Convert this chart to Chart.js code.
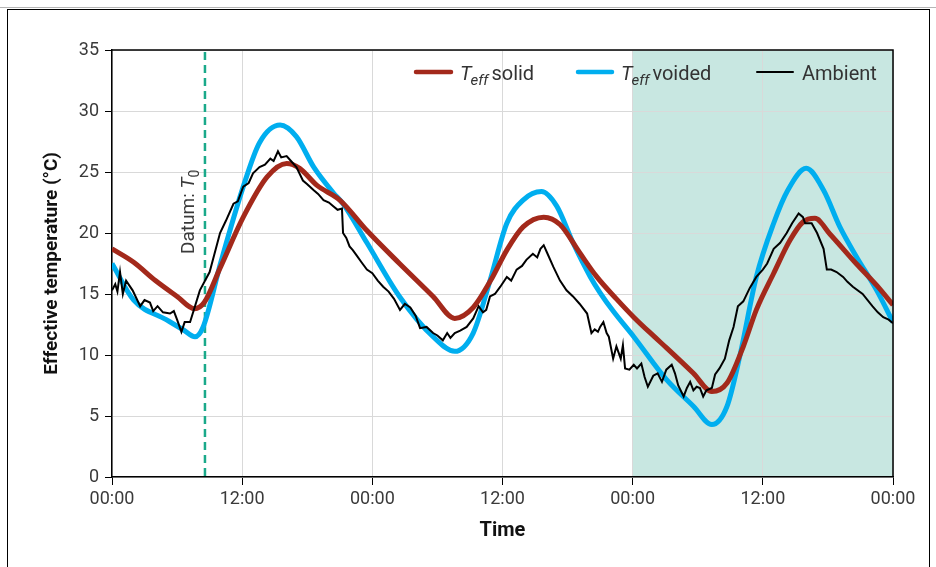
<!DOCTYPE html>
<html><head><meta charset="utf-8">
<script src="https://cdn.jsdelivr.net/npm/chart.js@4.4.1/dist/chart.umd.min.js"></script>
<style>
html,body{margin:0;padding:0;background:#fff;width:936px;height:567px;overflow:hidden;}
#topline{position:absolute;left:0;top:7px;width:936px;height:1px;background:#b5b5b5;}
#frame{position:absolute;left:7px;top:9px;width:921px;height:600px;border:1.5px solid #000;border-bottom:none;}
canvas{position:absolute;left:0;top:0;}
</style></head><body>
<div id="topline"></div><div id="frame"></div>
<canvas id="c" width="936" height="567"></canvas>
<script>
// ---- data (hours from start, °C) ----
const xTickValues = [0, 12, 24, 36, 48, 60, 72];
const xTickLabels = ['00:00', '12:00', '00:00', '12:00', '00:00', '12:00', '00:00'];
const datumHour = 8.57;
const shadeStart = 48, shadeEnd = 72;

const solidHours = [0, 2, 4, 6, 7.6, 8.5, 10, 12.1, 14.3, 16.1, 17.3, 18.9, 21, 23.5, 26.5, 29.6, 31.6, 33.3, 34.9, 36.4, 37.9, 39.8, 41.3, 43.1, 44.7, 46.5, 48.1, 50, 51.1, 53.6, 55.3, 56.7, 58.2, 59.4, 61, 62.5, 63.7, 64.8, 66.2, 68.6, 70.5, 72];
const solidTemps = [18.7, 17.6, 16.1, 14.8, 13.8, 14.3, 17.2, 21.3, 24.6, 25.7, 25.3, 23.9, 22.7, 20.2, 17.5, 14.8, 13.0, 13.9, 16.1, 18.6, 20.5, 21.3, 20.7, 18.4, 16.4, 14.6, 13.1, 11.5, 10.6, 8.5, 7.0, 7.7, 10.7, 13.7, 16.7, 19.4, 20.9, 21.2, 19.9, 17.5, 15.7, 14.1];

const voidedHours = [0, 2, 5, 6.6, 7.65, 8.4, 10, 12.1, 13.6, 15.5, 17, 18.6, 20.4, 21.3, 23.5, 26.5, 29.6, 31.6, 33.3, 34.85, 36.4, 37.9, 39.6, 41, 42.5, 44.1, 45, 46.2, 48.1, 51.1, 53.6, 55.3, 56.7, 57.9, 59.4, 61, 62.3, 64, 65.6, 67.1, 68.6, 70.5, 72];
const voidedTemps = [17.5, 14.5, 12.9, 12.05, 11.5, 12.3, 17.5, 23.8, 27.4, 28.85, 27.9, 25.4, 23.3, 22.4, 19.2, 14.8, 11.5, 10.3, 11.8, 16.1, 20.8, 22.7, 23.4, 22.2, 19.2, 16.4, 15.1, 13.6, 11.5, 8.0, 5.8, 4.3, 5.8, 10.0, 16.4, 20.8, 23.5, 25.3, 23.5, 20.5, 18.1, 15.3, 12.7];

const ambientHours = [0, 0.3, 0.5, 0.74, 1.0, 1.3, 1.9, 2.6, 3.0, 3.5, 3.8, 4.2, 4.7, 5.35, 5.7, 6.0, 6.4, 6.7, 7.2, 7.65, 8.1, 9.0, 9.96, 10.5, 11.2, 11.6, 12.1, 12.6, 13.0, 13.6, 14.1, 14.6, 14.9, 15.3, 15.6, 16.1, 16.5, 17.0, 17.6, 18.0, 18.6, 19.0, 19.5, 20.0, 20.4, 20.8, 21.2, 21.3, 21.6, 21.9, 22.2, 22.6, 23.0, 23.5, 24.0, 24.5, 25.0, 25.5, 26.0, 26.55, 27.0, 27.5, 28.0, 28.4, 29.0, 29.6, 30.0, 30.5, 30.9, 31.2, 31.6, 32.1, 32.7, 33.3, 33.8, 34.2, 34.5, 34.85, 35.3, 35.8, 36.4, 36.8, 37.3, 37.8, 38.2, 38.8, 39.2, 39.5, 39.8, 40.1, 40.7, 41.3, 41.9, 42.5, 43.1, 43.8, 44.2, 44.5, 44.8, 45.0, 45.3, 45.6, 45.8, 46.2, 46.5, 46.9, 47.1, 47.3, 47.7, 48.1, 48.4, 48.8, 49.1, 49.4, 49.9, 50.3, 50.7, 51.1, 51.6, 51.9, 52.2, 52.7, 53.0, 53.3, 53.6, 53.9, 54.2, 54.5, 54.8, 55.3, 55.6, 56.0, 56.5, 56.9, 57.3, 57.7, 58.2, 58.8, 59.4, 60.0, 60.4, 61.0, 61.6, 62.2, 62.7, 63.3, 63.7, 63.9, 64.5, 65.0, 65.6, 65.9, 66.3, 66.8, 67.4, 67.8, 68.3, 69.2, 70.1, 70.6, 71.1, 71.6, 72];
const ambientTemps = [15.3, 15.8, 15.2, 16.8, 15.0, 16.1, 15.3, 14.0, 14.5, 14.3, 13.6, 14.0, 13.5, 13.4, 13.6, 12.9, 11.9, 12.7, 12.7, 14.0, 15.3, 16.8, 20.0, 21.0, 22.4, 22.6, 23.8, 24.1, 24.9, 25.4, 25.6, 26.1, 25.9, 26.7, 26.2, 26.3, 25.9, 25.4, 24.3, 24.0, 23.5, 23.2, 22.7, 22.5, 22.2, 21.9, 22.0, 20.0, 19.6, 18.9, 18.6, 18.1, 17.6, 17.0, 16.7, 16.1, 15.6, 15.2, 14.6, 13.7, 14.2, 13.9, 13.2, 12.2, 12.3, 11.8, 11.6, 11.2, 11.8, 11.4, 11.8, 12.0, 12.3, 13.0, 14.0, 13.5, 13.7, 14.8, 15.0, 15.6, 16.4, 16.1, 17.0, 17.3, 17.8, 18.3, 18.0, 18.7, 19.0, 18.4, 17.2, 16.1, 15.3, 14.8, 14.2, 13.4, 11.8, 12.1, 11.9, 12.3, 12.7, 11.8, 11.5, 9.7, 10.7, 9.7, 10.8, 8.9, 8.8, 9.2, 8.9, 9.3, 8.2, 7.4, 8.3, 8.5, 7.8, 8.8, 9.2, 8.5, 7.5, 6.6, 7.3, 7.8, 7.1, 7.4, 7.3, 6.6, 7.1, 7.3, 8.4, 8.9, 9.7, 11.2, 12.3, 14.0, 14.4, 15.5, 16.4, 17.0, 17.5, 18.7, 19.2, 20.0, 20.8, 21.6, 21.3, 20.8, 20.8, 20.0, 18.7, 17.0, 17.0, 16.8, 16.4, 16.0, 15.6, 15.0, 14.0, 13.5, 13.1, 12.9, 12.6];

// ---- styles ----
const RED = '#a3291b', BLUE = '#00aeef', BLACK = '#000000';
const SHADE = '#c8e7e1', DATUM = '#1aa98a', GRID = '#d9d9d9';
const FONT = 'Roboto';

const toPts = (xs, ys) => xs.map((x, i) => ({x: x, y: ys[i]}));

const plugins = [{
  id: 'decor',
  beforeDraw(chart) {
    const {ctx, chartArea: a, scales: {x}} = chart;
    ctx.save();
    ctx.fillStyle = SHADE;
    const x0 = x.getPixelForValue(shadeStart), x1 = x.getPixelForValue(shadeEnd);
    ctx.fillRect(x0, a.top, x1 - x0, a.bottom - a.top);
    ctx.restore();
  },
  beforeDatasetsDraw(chart) {
    const {ctx, chartArea: a, scales: {x}} = chart;
    const dx = x.getPixelForValue(datumHour);
    ctx.save();
    ctx.strokeStyle = DATUM; ctx.lineWidth = 2.5; ctx.setLineDash([8, 5]);
    ctx.beginPath(); ctx.moveTo(dx, a.top + 2); ctx.lineTo(dx, a.bottom); ctx.stroke();
    ctx.setLineDash([]);
    // Datum label
    ctx.translate(dx - 11, 254);
    ctx.rotate(-Math.PI / 2);
    ctx.fillStyle = '#3a3a3a';
    ctx.textBaseline = 'alphabetic'; ctx.textAlign = 'left';
    ctx.font = '19px ' + FONT;
    const t1 = 'Datum: ';
    ctx.fillText(t1, 0, 0);
    let w = ctx.measureText(t1).width;
    ctx.font = 'italic 19px ' + FONT;
    ctx.fillText('T', w, 0);
    w += ctx.measureText('T').width;
    ctx.font = '14px ' + FONT;
    ctx.fillText('0', w, 5);
    ctx.restore();
  },
  afterDraw(chart) {
    const {ctx, chartArea: a} = chart;
    ctx.save();
    ctx.strokeStyle = '#000'; ctx.lineWidth = 1.5;
    ctx.beginPath();
    ctx.moveTo(a.left, a.top); ctx.lineTo(a.right, a.top); ctx.lineTo(a.right, a.bottom);
    ctx.stroke();
    // legend
    const ly = 72, by = 80;
    const items = [
      {x1: 416, x2: 451, color: RED, w: 4.5, tx: 460, sub: true, label: 'solid'},
      {x1: 578, x2: 612, color: BLUE, w: 4.5, tx: 621, sub: true, label: 'voided'},
      {x1: 757, x2: 793, color: BLACK, w: 2, tx: 802, sub: false, label: 'Ambient'}
    ];
    ctx.textBaseline = 'alphabetic'; ctx.textAlign = 'left';
    ctx.fillStyle = '#333';
    items.forEach(it => {
      ctx.strokeStyle = it.color; ctx.lineWidth = it.w; ctx.lineCap = 'round';
      ctx.beginPath(); ctx.moveTo(it.x1, ly); ctx.lineTo(it.x2, ly); ctx.stroke();
      let tx = it.tx;
      if (it.sub) {
        ctx.font = 'italic 20px ' + FONT;
        ctx.fillText('T', tx, by);
        tx += ctx.measureText('T').width - 1;
        ctx.font = 'italic 15px ' + FONT;
        ctx.fillText('eff', tx, by + 5);
        tx += ctx.measureText('eff').width + 3;
      }
      ctx.font = '20px ' + FONT;
      ctx.fillText(it.label, tx, by);
    });
    ctx.restore();
  }
}];

new Chart(document.getElementById('c'), {
  type: 'line',
  data: {
    datasets: [
      {label: 'Ambient', data: toPts(ambientHours, ambientTemps), borderColor: BLACK, borderWidth: 2, pointRadius: 0, tension: 0, order: 0},
      {label: 'Teff solid', data: toPts(solidHours, solidTemps), borderColor: RED, borderWidth: 5, pointRadius: 0, cubicInterpolationMode: 'monotone', order: 1},
      {label: 'Teff voided', data: toPts(voidedHours, voidedTemps), borderColor: BLUE, borderWidth: 5, pointRadius: 0, cubicInterpolationMode: 'monotone', order: 2}
    ]
  },
  options: {
    responsive: false,
    animation: false,
    layout: {padding: {left: 41, top: 50, right: 43, bottom: 24}},
    plugins: {legend: {display: false}, tooltip: {enabled: false}},
    scales: {
      x: {
        type: 'linear', min: 0, max: 72,
        afterBuildTicks(s) { s.ticks = xTickValues.map(v => ({value: v})); },
        afterFit(s) { s.height = 66; },
        ticks: {
          autoSkip: false, maxRotation: 0, padding: 4,
          color: '#3a3a3a', font: {family: FONT, size: 18},
          callback: (v) => xTickLabels[xTickValues.indexOf(v)]
        },
        grid: {color: GRID, lineWidth: 1, tickColor: '#000', tickLength: 8},
        border: {color: '#000', width: 1.5},
        title: {display: true, text: 'Time', color: '#111', font: {family: FONT, size: 20, weight: 'bold'}, padding: 0}
      },
      y: {
        min: 0, max: 35,
        afterFit(s) { s.width = 71; },
        ticks: {stepSize: 5, padding: 6, color: '#3a3a3a', font: {family: FONT, size: 18}},
        grid: {color: GRID, lineWidth: 1, tickColor: '#000', tickLength: 7},
        border: {color: '#000', width: 1.5},
        title: {display: true, text: 'Effective temperature (°C)', color: '#111', font: {family: FONT, size: 19, weight: 'bold'}, padding: 0}
      }
    }
  },
  plugins: plugins
});
</script>
</body></html>
